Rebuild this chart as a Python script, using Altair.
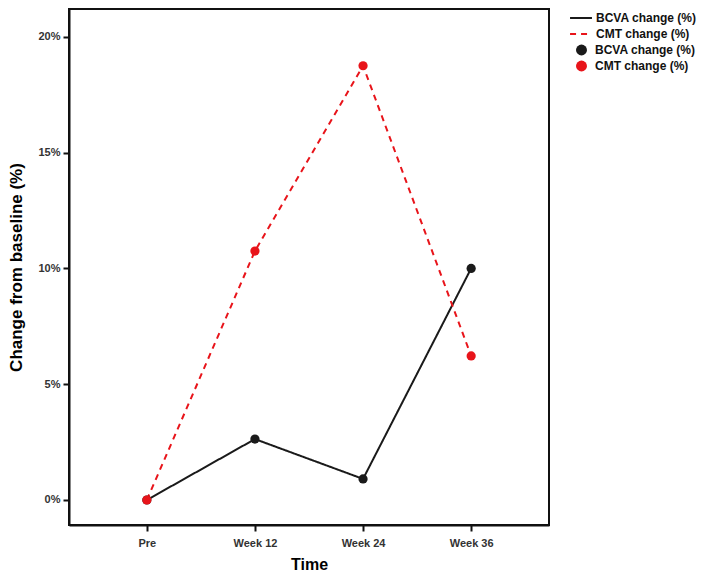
import altair as alt
import pandas as pd

times = ["Pre", "Week 12", "Week 24", "Week 36"]
bcva = [0.0, 0.0263, 0.0091, 0.100]
cmt = [0.0, 0.1075, 0.1875, 0.0622]
series_names = ["BCVA change (%)", "CMT change (%)"]
colors = ["#1a1a1a", "#e8141a"]

rows = []
for t, v in zip(times, bcva):
    rows.append({"Time": t, "value": v, "series": series_names[0]})
for t, v in zip(times, cmt):
    rows.append({"Time": t, "value": v, "series": series_names[1]})
df = pd.DataFrame(rows)

font = "Liberation Sans"

x = alt.X("Time:N", sort=times, title="Time",
          scale=alt.Scale(type="point", padding=0.72),
          axis=alt.Axis(labelAngle=0, labelFontSize=11, labelFontWeight="bold", labelColor="#333",
                        tickSize=6, tickWidth=2, tickColor="#111", domainWidth=2, domainColor="#111",
                        titleFontSize=16, titleFontWeight="bold", titlePadding=8, labelPadding=6))
y = alt.Y("value:Q", title="Change from baseline (%)",
          scale=alt.Scale(domain=[-0.0108, 0.212], nice=False, zero=False),
          axis=alt.Axis(values=[0, 0.05, 0.10, 0.15, 0.20], format=".0%", grid=False,
                        labelFontSize=11, labelFontWeight="bold", labelColor="#333",
                        tickSize=6, tickWidth=2, tickColor="#111", domainWidth=2, domainColor="#111",
                        titleFontSize=17, titleFontWeight="bold", titlePadding=12, labelPadding=3))

color_scale = alt.Scale(domain=series_names, range=colors)

dash_expr = "datum.value === '" + series_names[1] + "' ? [6, 5] : [1, 0]"

line_legend = alt.Legend(title=None, orient="none", legendX=500, legendY=2.5,
                         symbolType="stroke", symbolStrokeWidth=2, symbolSize=480,
                         symbolDash=alt.ExprRef(expr=dash_expr),
                         labelFontSize=12, labelFont=font, labelFontWeight="bold", labelColor="#111",
                         rowPadding=3, padding=0, labelOffset=3, clipHeight=13)

lines = alt.Chart(df).mark_line(strokeWidth=2).encode(
    x=x, y=y,
    color=alt.Color("series:N", scale=color_scale, legend=line_legend),
    strokeDash=alt.StrokeDash("series:N",
                              scale=alt.Scale(domain=series_names, range=[[1, 0], [6, 5]]),
                              legend=None),
)

points = alt.Chart(df).mark_circle(size=85, opacity=1).encode(
    x=x, y=y,
    color=alt.Color("series:N", scale=color_scale,
                    legend=alt.Legend(title=None, orient="none", legendX=506, legendY=34.5,
                                      symbolType="circle", symbolSize=120, symbolOpacity=1,
                                      labelFontSize=12, labelFont=font, labelFontWeight="bold",
                                      labelColor="#111",
                                      rowPadding=3, padding=0, labelOffset=7, clipHeight=13)),
)

chart = alt.layer(lines, points).resolve_scale(color="independent").properties(
    width=480, height=516,
    autosize=alt.AutoSizeParams(type="none"),
    padding={"left": 61, "top": 1, "right": 151, "bottom": 50},
    background="white",
).configure_view(stroke="#111", strokeWidth=2).configure_axis(
    labelFont=font, titleFont=font
)

chart.save("out.html", embed_options={"renderer": "svg", "actions": False})
